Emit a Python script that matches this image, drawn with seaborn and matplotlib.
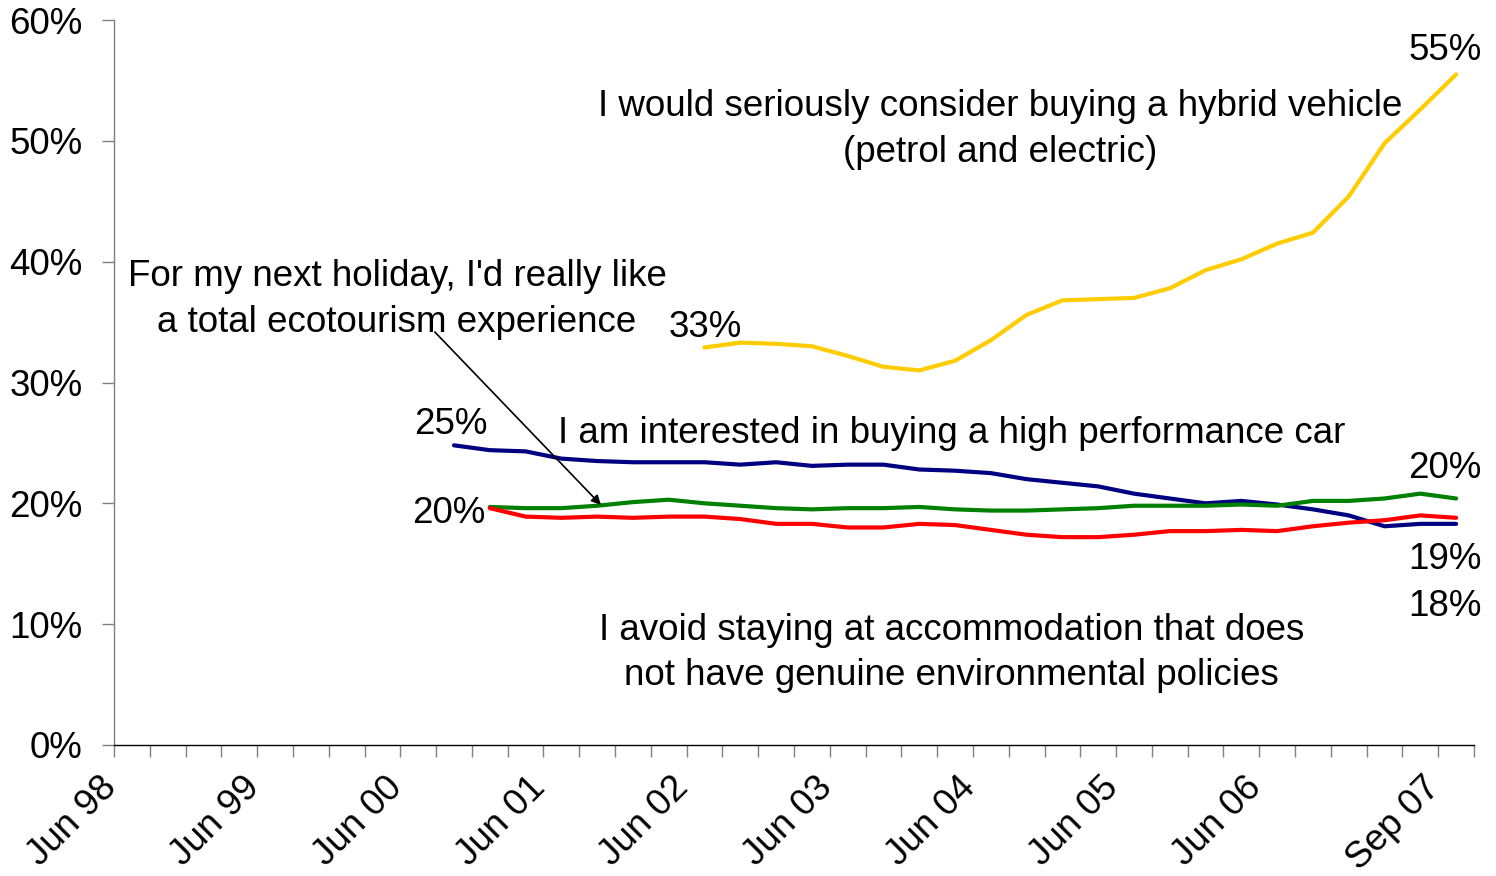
import pandas as pd
import seaborn as sns
import matplotlib.pyplot as plt
from matplotlib.transforms import ScaledTranslation

# quarterly survey waves, Jun 98 .. Sep 07
quarters = list(pd.date_range("1998-06-01", "2007-09-01", freq="3MS").strftime("%b %y"))
tick_labels = ["Jun 98", "Jun 99", "Jun 00", "Jun 01", "Jun 02",
               "Jun 03", "Jun 04", "Jun 05", "Jun 06", "Sep 07"]

# % agreeing
hybrid = [32.9, 33.3, 33.2, 33.0, 32.2, 31.3, 31.0, 31.8, 33.5, 35.6, 36.8,
          36.9, 37.0, 37.8, 39.3, 40.2, 41.5, 42.4, 45.4, 49.8, 52.6, 55.5]   # from Jun 02
perf_car = [24.8, 24.4, 24.3, 23.7, 23.5, 23.4, 23.4, 23.4, 23.2, 23.4, 23.1,
            23.2, 23.2, 22.8, 22.7, 22.5, 22.0, 21.7, 21.4, 20.8, 20.4, 20.0,
            20.2, 19.9, 19.5, 19.0, 18.1, 18.3, 18.3]                          # from Sep 00
ecotourism = [19.7, 19.6, 19.6, 19.8, 20.1, 20.3, 20.0, 19.8, 19.6, 19.5, 19.6,
              19.6, 19.7, 19.5, 19.4, 19.4, 19.5, 19.6, 19.8, 19.8, 19.8, 19.9,
              19.8, 20.2, 20.2, 20.4, 20.8, 20.4]                              # from Dec 00
accommodation = [19.6, 18.9, 18.8, 18.9, 18.8, 18.9, 18.9, 18.7, 18.3, 18.3, 18.0,
                 18.0, 18.3, 18.2, 17.8, 17.4, 17.2, 17.2, 17.4, 17.7, 17.7, 17.8,
                 17.7, 18.1, 18.4, 18.6, 19.0, 18.8]                           # from Dec 00

series = {
    "hybrid": ("Jun 02", hybrid),
    "perf_car": ("Sep 00", perf_car),
    "ecotourism": ("Dec 00", ecotourism),
    "accommodation": ("Dec 00", accommodation),
}
colores = {"hybrid": "#FFCC00", "perf_car": "#000080",
           "ecotourism": "#008000", "accommodation": "#FF0000"}

filas = []
for nombre, (inicio, valores) in series.items():
    i0 = quarters.index(inicio)
    for k, v in enumerate(valores):
        filas.append({"pos": i0 + k, "quarter": quarters[i0 + k], "value": v, "series": nombre})
df = pd.DataFrame(filas)

sns.set_style("white")
plt.rcParams["font.family"] = ["Liberation Sans", "DejaVu Sans"]
plt.rcParams["text.color"] = "black"
plt.rcParams["xtick.color"] = "black"
plt.rcParams["ytick.color"] = "black"
FS = 26.5

fig = plt.figure(figsize=(14.96, 8.76), dpi=100)
ax = fig.add_axes([0.0762, 0.1496, 0.9091, 0.8275])

sns.lineplot(data=df, x="pos", y="value", hue="series", palette=colores,
             linewidth=3, legend=False, ax=ax)

ax.set_xlim(-0.5, len(quarters) - 0.5)
ax.set_ylim(0, 60)
ax.set_xlabel("")
ax.set_ylabel("")

# y axis
ax.set_yticks(range(0, 61, 10))
ax.set_yticklabels([f"{v}%" for v in range(0, 61, 10)], fontsize=FS)
ax.tick_params(axis="y", length=8.6, width=1, color="#808080", labelcolor="black",
               pad=14, left=True)

# x axis: marks between quarters, labels on quarters
ax.set_xticks([quarters.index(t) for t in tick_labels])
ax.set_xticklabels(tick_labels, fontsize=FS, rotation=45, ha="right",
                   va="center", rotation_mode="anchor")
ax.set_xticks([i - 0.5 for i in range(len(quarters) + 1)], minor=True)
ax.tick_params(axis="x", which="major", length=0, pad=27, labelcolor="black")
ax.tick_params(axis="x", which="minor", length=8.6, width=1, color="#808080",
               direction="out", bottom=True)
desplaza = ScaledTranslation(-21 / 100, 0, fig.dpi_scale_trans)
for lab in ax.get_xticklabels():
    lab.set_transform(lab.get_transform() + desplaza)

sns.despine(ax=ax)
ax.spines["left"].set_color("#808080")
ax.spines["bottom"].set_color("black")
ax.spines["left"].set_linewidth(1)
ax.spines["bottom"].set_linewidth(1)

# series labels
ax.text(24.26, 50.95, "I would seriously consider buying a hybrid vehicle\n(petrol and electric)",
        ha="center", va="center", fontsize=FS, linespacing=1.4)
ax.text(7.41, 36.85, "For my next holiday, I'd really like\na total ecotourism experience",
        ha="center", va="center", fontsize=FS, linespacing=1.4)
ax.text(22.91, 25.75, "I am interested in buying a high performance car",
        ha="center", va="center", fontsize=FS)
ax.text(22.91, 7.61, "I avoid staying at accommodation that does\nnot have genuine environmental policies",
        ha="center", va="center", fontsize=FS, linespacing=1.4)
ax.annotate("", xy=(13.16, 19.7), xytext=(8.41, 34.35),
            arrowprops=dict(arrowstyle="-|>", color="black", lw=1.2, mutation_scale=14))

# value labels
for x, y, s in [(16.01, 34.52, "33%"), (36.69, 57.45, "55%"), (8.92, 26.49, "25%"),
                (8.86, 19.12, "20%"), (36.69, 22.85, "20%"), (36.69, 15.31, "19%"),
                (36.69, 11.42, "18%")]:
    ax.text(x, y, s, ha="center", va="center", fontsize=FS)

fig.savefig("out.png", dpi=100)
